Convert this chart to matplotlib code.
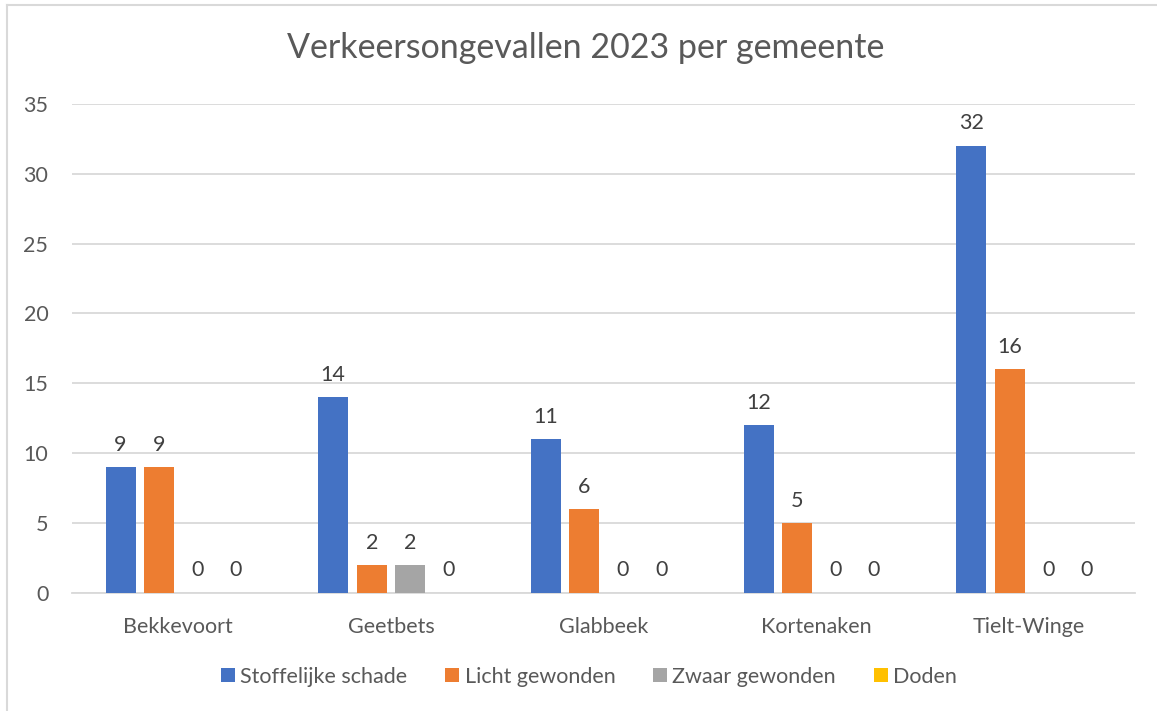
# Verkeersongevallen 2023 per gemeente - gegroepeerde staafgrafiek
import matplotlib.pyplot as plt
import numpy as np
from matplotlib.lines import Line2D
from matplotlib.patches import Patch

plt.rcParams['font.family'] = ['Lato', 'DejaVu Sans']

gemeenten = ['Bekkevoort', 'Geetbets', 'Glabbeek', 'Kortenaken', 'Tielt-Winge']
reeksen = ['Stoffelijke schade', 'Licht gewonden', 'Zwaar gewonden', 'Doden']
stoffelijke_schade = [9, 14, 11, 12, 32]
licht_gewonden = [9, 2, 6, 5, 16]
zwaar_gewonden = [0, 2, 0, 0, 0]
doden = [0, 0, 0, 0, 0]
kleuren = ['#4472C4', '#ED7D31', '#A5A5A5', '#FFC000']

tekst = '#595959'
raster = '#D9D9D9'

fig = plt.figure(figsize=(11.57, 7.11), dpi=100)
ax = fig.add_axes([0.0622, 0.166, 0.919, 0.688])

x = np.arange(len(gemeenten))
stap = 0.181
breedte = 0.141
waarden = [stoffelijke_schade, licht_gewonden, zwaar_gewonden, doden]
for i, (naam, vals, kleur) in enumerate(zip(reeksen, waarden, kleuren)):
    pos = x + (i - 1.5) * stap
    ax.bar(pos, vals, width=breedte, color=kleur, label=naam, zorder=3)
    for p, v in zip(pos, vals):
        ax.annotate(str(v), (p, v), xytext=(0, 9), textcoords='offset points',
                    ha='center', va='bottom', fontsize=15.5, color='#404040',
                    annotation_clip=False)

ax.set_xlim(-0.5, len(gemeenten) - 0.5)
ax.set_ylim(0, 35)
ax.set_yticks(range(0, 36, 5))
ax.set_xticks(x)
ax.set_xticklabels(gemeenten)
ax.grid(axis='y', color=raster, linewidth=1.3, zorder=0)
for s in ['top', 'right', 'left']:
    ax.spines[s].set_visible(False)
ax.spines['bottom'].set_color(raster)
ax.spines['bottom'].set_linewidth(1.3)
ax.tick_params(axis='both', length=0, labelsize=15.5, colors=tekst)
ax.tick_params(axis='x', pad=17)
ax.tick_params(axis='y', pad=17)

fig.text(0.506, 0.932, 'Verkeersongevallen 2023 per gemeente', ha='center', va='center',
         fontsize=24.5, color=tekst)

handles = [Patch(facecolor=k) for k in kleuren]
fig.legend(handles, reeksen, loc='center', bbox_to_anchor=(0.509, 0.048), ncol=4,
           frameon=False, fontsize=15.5, labelcolor=tekst, handlelength=0.65,
           handleheight=0.65, handletextpad=0.25, columnspacing=1.75)

# rand van het diagram
fig.add_artist(Line2D([7 / 1157, 1], [1 - 5 / 711, 1 - 5 / 711], color=raster, lw=1.5))
fig.add_artist(Line2D([7 / 1157, 7 / 1157], [0, 1 - 5 / 711], color=raster, lw=1.5))

fig.savefig('out.png', dpi=100)
